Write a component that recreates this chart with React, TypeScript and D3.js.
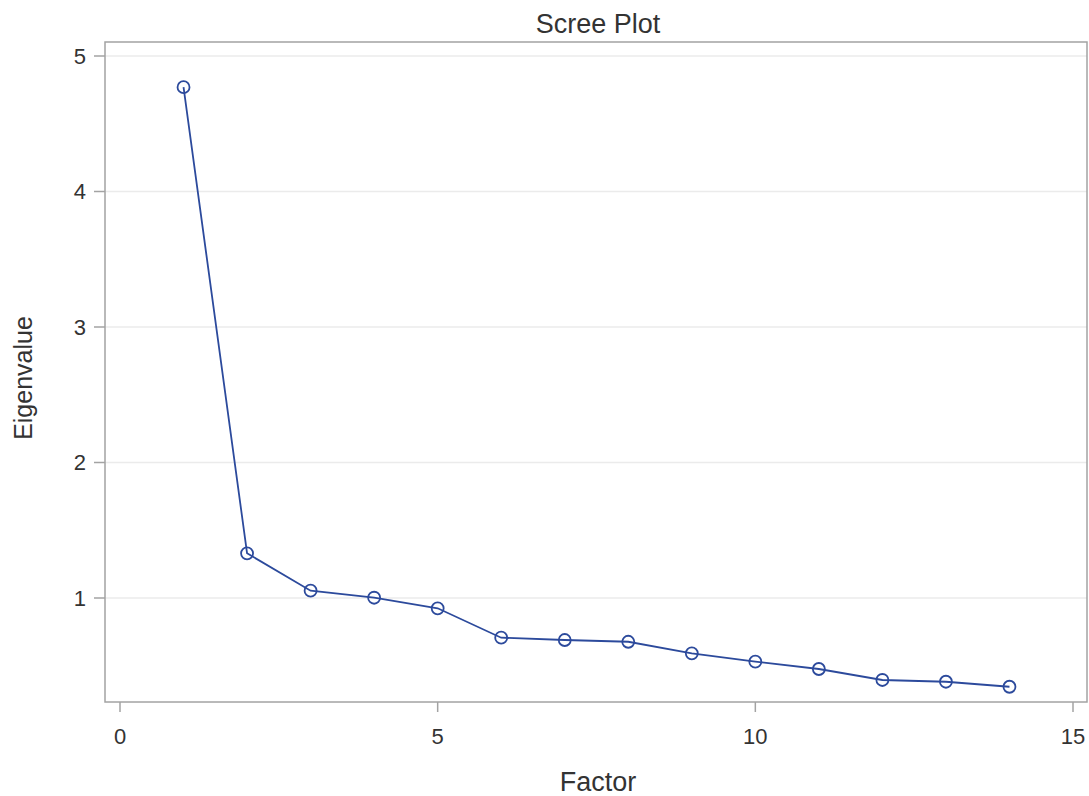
import React from "react";
import * as d3 from "d3";

const factors = [1, 2, 3, 4, 5, 6, 7, 8, 9, 10, 11, 12, 13, 14];
const eigenvalues = [4.77, 1.33, 1.054, 1.002, 0.924, 0.707, 0.69, 0.677, 0.592, 0.53, 0.476, 0.395, 0.382, 0.345];
const xTicks = [0, 5, 10, 15];
const yTicks = [1, 2, 3, 4, 5];

const W = 1089;
const H = 796;
const frame = { left: 105, right: 1087, top: 42, bottom: 702 };

export default function App() {
  const x = d3.scaleLinear().domain([0, 15]).range([120, 1073]);
  const y = d3.scaleLinear().domain([0, 5]).range([733.5, 56]);
  const line = d3
    .line<number>()
    .x((_, i) => x(factors[i]))
    .y((d) => y(d));
  const font = "'Liberation Sans', Arial, sans-serif";
  const axisColor = "#a3a3a3";
  const textColor = "#333";
  const lineColor = "#2c4a9c";

  return (
    <svg
      width={W}
      height={H}
      style={{ position: "absolute", left: 0, top: 0, background: "#fff" }}
      fontFamily={font}
    >
      <rect x={0} y={0} width={W} height={H} fill="#fff" />
      {/* horizontal grid lines */}
      {yTicks.map((t) => (
        <line
          key={"g" + t}
          x1={frame.left}
          x2={frame.right}
          y1={y(t)}
          y2={y(t)}
          stroke="#ebebeb"
          strokeWidth={1.5}
        />
      ))}
      {/* plot frame */}
      <rect
        x={frame.left}
        y={frame.top}
        width={frame.right - frame.left}
        height={frame.bottom - frame.top}
        fill="none"
        stroke={axisColor}
        strokeWidth={1.5}
      />
      {/* y axis ticks */}
      {yTicks.map((t) => (
        <g key={"y" + t}>
          <line x1={frame.left - 11} x2={frame.left} y1={y(t)} y2={y(t)} stroke={axisColor} strokeWidth={1.5} />
          <text x={frame.left - 19} y={y(t)} dy="0.36em" textAnchor="end" fontSize={22} fill={textColor}>
            {t}
          </text>
        </g>
      ))}
      {/* x axis ticks */}
      {xTicks.map((t) => (
        <g key={"x" + t}>
          <line x1={x(t)} x2={x(t)} y1={frame.bottom} y2={frame.bottom + 10} stroke={axisColor} strokeWidth={1.5} />
          <text x={x(t)} y={744} textAnchor="middle" fontSize={22} fill={textColor}>
            {t}
          </text>
        </g>
      ))}
      {/* series */}
      <path d={line(eigenvalues) || ""} fill="none" stroke={lineColor} strokeWidth={1.8} />
      {eigenvalues.map((v, i) => (
        <circle
          key={"p" + i}
          cx={x(factors[i])}
          cy={y(v)}
          r={6}
          fill="none"
          stroke={lineColor}
          strokeWidth={1.8}
        />
      ))}
      {/* titles */}
      <text x={598} y={33} textAnchor="middle" fontSize={27} fill={textColor}>
        Scree Plot
      </text>
      <text x={598} y={791} textAnchor="middle" fontSize={27} fill={textColor}>
        Factor
      </text>
      <text
        transform="translate(32, 378) rotate(-90)"
        textAnchor="middle"
        fontSize={25}
        fill={textColor}
      >
        Eigenvalue
      </text>
    </svg>
  );
}
